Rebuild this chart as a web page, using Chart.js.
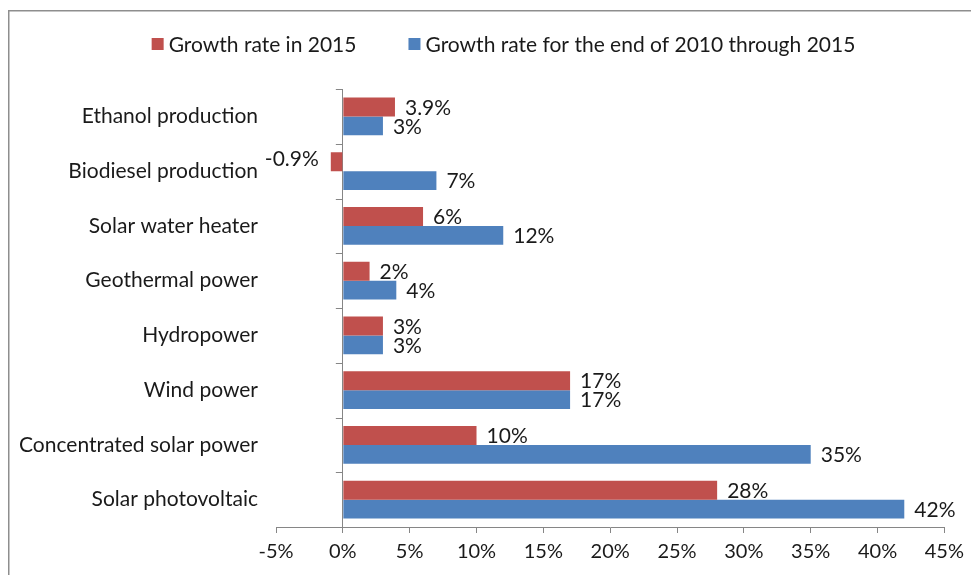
<!DOCTYPE html>
<html>
<head>
<meta charset="utf-8">
<title>Renewable energy growth rates</title>
<script src="https://cdn.jsdelivr.net/npm/chart.js@4"></script>
<style>
  html, body { margin: 0; padding: 0; background: #fff; }
  #wrap { width: 971px; height: 575px; }
</style>
</head>
<body>
<div id="wrap"><canvas id="grafica" width="971" height="575"></canvas></div>
<script>
// categories, top to bottom
const categories = ['Ethanol production', 'Biodiesel production', 'Solar water heater', 'Geothermal power',
    'Hydropower', 'Wind power', 'Concentrated solar power', 'Solar photovoltaic'];
const seriesNames = ['Growth rate in 2015', 'Growth rate for the end of 2010 through 2015'];
const growth2015 = [3.9, -0.9, 6, 2, 3, 17, 10, 28];
const growth2010to2015 = [3, 7, 12, 4, 3, 17, 35, 42];
const xTicks = [-5, 0, 5, 10, 15, 20, 25, 30, 35, 40, 45];
const colors = ['#C0504D', '#4F81BD'];

const FONT = 'Lato, "Liberation Sans", sans-serif';
const axisGray = '#868686';

// frame round the whole chart
const framePlugin = {
    id: 'frame',
    beforeDraw(chart) {
        const ctx = chart.ctx;
        ctx.save();
        ctx.fillStyle = '#fff';
        ctx.fillRect(0, 0, chart.width, chart.height);
        ctx.strokeStyle = '#8e8e8e';
        ctx.lineWidth = 1.5;
        ctx.strokeRect(8.75, 10.75, chart.width + 10, chart.height + 10);
        ctx.restore();
    }
};

// legend drawn on top, centred
const legendPlugin = {
    id: 'topLegend',
    afterDraw(chart) {
        const ctx = chart.ctx;
        ctx.save();
        ctx.font = '21px ' + FONT;
        ctx.textBaseline = 'middle';
        const box = 12, gap = 5, spacing = 52, cy = 44;
        const items = chart.data.datasets.map(ds => ({ text: ds.label, color: ds.backgroundColor }));
        let total = 0;
        items.forEach((it, i) => {
            it.w = box + gap + ctx.measureText(it.text).width;
            total += it.w + (i ? spacing : 0);
        });
        let x = 503.5 - total / 2;
        items.forEach(it => {
            ctx.fillStyle = it.color;
            ctx.fillRect(x, cy - box / 2, box, box);
            ctx.fillStyle = '#1a1a1a';
            ctx.textAlign = 'left';
            ctx.fillText(it.text, x + box + gap, cy + 1);
            x += it.w + spacing;
        });
        ctx.restore();
    }
};

// zero line tick marks between categories, and value labels
const extrasPlugin = {
    id: 'extras',
    afterDatasetsDraw(chart) {
        const ctx = chart.ctx;
        const xs = chart.scales.x, ys = chart.scales.y;
        const x0 = xs.getPixelForValue(0);
        const band = (ys.bottom - ys.top) / categories.length;
        ctx.save();
        ctx.strokeStyle = axisGray;
        ctx.lineWidth = 1;
        for (let i = 0; i < categories.length; i++) {
            const y = Math.round(ys.top + i * band) + 0.5;
            ctx.beginPath();
            ctx.moveTo(x0 - 7, y);
            ctx.lineTo(x0, y);
            ctx.stroke();
        }
        ctx.font = '21px ' + FONT;
        ctx.fillStyle = '#1a1a1a';
        ctx.textBaseline = 'middle';
        chart.data.datasets.forEach((ds, di) => {
            chart.getDatasetMeta(di).data.forEach((bar, i) => {
                const v = ds.data[i];
                const txt = v + '%';
                if (v < 0) {
                    ctx.textAlign = 'right';
                    ctx.fillText(txt, bar.x - 12, bar.y - 2);
                } else {
                    ctx.textAlign = 'left';
                    ctx.fillText(txt, bar.x + 10, bar.y + 1);
                }
            });
        });
        ctx.restore();
    }
};

const graph = document.querySelector('#grafica');

const data = {
    labels: categories,
    datasets: [{
        label: seriesNames[0],
        data: growth2015,
        backgroundColor: colors[0]
    }, {
        label: seriesNames[1],
        data: growth2010to2015,
        backgroundColor: colors[1]
    }]
};

const config = {
    type: 'bar',
    data: data,
    options: {
        indexAxis: 'y',
        responsive: false,
        animation: false,
        categoryPercentage: 0.69,
        barPercentage: 1,
        layout: { padding: { top: 89, right: 25, left: 0, bottom: 0 } },
        plugins: {
            legend: { display: false },
            tooltip: { enabled: false }
        },
        scales: {
            x: {
                min: xTicks[0],
                max: xTicks[xTicks.length - 1],
                afterBuildTicks: s => { s.ticks = xTicks.map(v => ({ value: v })); },
                afterFit: s => { s.height = 48; },
                border: { display: true, color: axisGray, width: 1 },
                grid: {
                    drawOnChartArea: true,
                    color: c => (c.tick && c.tick.value === 0) ? axisGray : 'rgba(0,0,0,0)',
                    tickColor: axisGray,
                    tickLength: 6
                },
                ticks: {
                    padding: 7,
                    color: '#1a1a1a',
                    font: { family: FONT, size: 20 },
                    callback: v => v + '%'
                }
            },
            y: {
                afterFit: s => { s.width = 276; },
                border: { display: false },
                grid: { display: false, drawTicks: false, tickLength: 0 },
                ticks: {
                    padding: 18,
                    color: '#1a1a1a',
                    font: { family: FONT, size: 21 }
                }
            }
        }
    },
    plugins: [framePlugin, extrasPlugin, legendPlugin]
};

new Chart(graph, config);
</script>
</body>
</html>
